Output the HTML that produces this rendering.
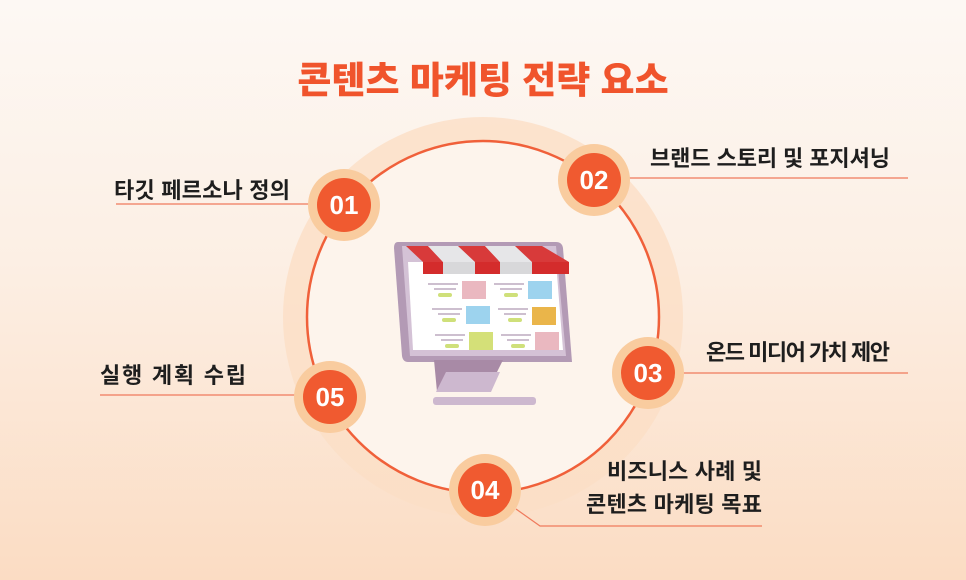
<!DOCTYPE html>
<html><head><meta charset="utf-8"><style>
html,body{margin:0;padding:0}
body{width:966px;height:580px;overflow:hidden;background:linear-gradient(180deg,#fdf8f4 0%,#fcefe4 45%,#fbdcc3 100%);font-family:"Liberation Sans","Noto Sans CJK KR",sans-serif}
svg{display:block}
</style></head><body>
<svg width="966" height="580" viewBox="0 0 966 580">
<text x="483" y="93" text-anchor="middle" font-size="37" font-weight="900" fill="#f0542c" font-family="Liberation Sans, Noto Sans CJK KR, sans-serif">콘텐츠 마케팅 전략 요소</text>
<circle cx="483" cy="317" r="200" fill="#fbdfc6" opacity="0.8"/>
<circle cx="483" cy="317" r="176" fill="#fdf4ec"/>
<circle cx="483" cy="317" r="176" fill="none" stroke="#f0603a" stroke-width="2.5"/>
<g stroke="#ef7a5c" stroke-width="1.2" fill="none">
<line x1="116" y1="204" x2="318" y2="204"/>
<line x1="622" y1="178" x2="908" y2="178"/>
<line x1="676" y1="373" x2="908" y2="373"/>
<line x1="100" y1="395" x2="302" y2="395"/>
<polyline points="516,509 540,526 762,526"/>
</g>
<!-- monitor -->
<g>
<path d="M398,242 L556,242 Q562,242 563,248 L572,362 L408,362 Q403,362 402,356 L394,248 Q394,242 398,242Z" fill="#b39ab5"/>
<path d="M402,246 L556,246 L566,356 L410,356Z" fill="#d4c2d6"/>
<path d="M408,262 L556,262 L563,350 L413,350Z" fill="#ffffff"/>
<path d="M434,360 L503,360 L487,392 L437,392Z" fill="#a88aa6"/>
<path d="M446,372 L500,372 L491,392 L436,392Z" fill="#cdb8cf"/>
<rect x="433" y="397" width="103" height="8" rx="3" fill="#cdb8cf"/>
<polygon points="406,246 428,246 443,262 423,262" fill="#d83a3a"/>
<polygon points="428,246 458,246 475,262 443,262" fill="#e6e6e8"/>
<polygon points="458,246 485,246 500,262 475,262" fill="#d83a3a"/>
<polygon points="485,246 515,246 532,262 500,262" fill="#e6e6e8"/>
<polygon points="515,246 542,246 569,262 532,262" fill="#d83a3a"/>
<rect x="423" y="262" width="20" height="12" fill="#d42c2c"/>
<rect x="443" y="262" width="32" height="12" fill="#d8d8da"/>
<rect x="475" y="262" width="25" height="12" fill="#d42c2c"/>
<rect x="500" y="262" width="32" height="12" fill="#d8d8da"/>
<rect x="532" y="262" width="37" height="12" fill="#d42c2c"/>
<rect x="462" y="281" width="24" height="18" fill="#eab8c0"/>
<rect x="528" y="281" width="24" height="18" fill="#9dd3ee"/>
<rect x="466" y="306" width="24" height="18" fill="#9dd3ee"/>
<rect x="532" y="307" width="24" height="18" fill="#eab54a"/>
<rect x="469" y="332" width="24" height="18" fill="#d4e078"/>
<rect x="535" y="332" width="24" height="18" fill="#eab8c0"/>
<g fill="#cdbfcf">
<rect x="428" y="283" width="30" height="2"/><rect x="434" y="288" width="22" height="2"/>
<rect x="494" y="283" width="30" height="2"/><rect x="500" y="288" width="22" height="2"/>
<rect x="432" y="308" width="30" height="2"/><rect x="438" y="313" width="22" height="2"/>
<rect x="498" y="308" width="30" height="2"/><rect x="504" y="313" width="22" height="2"/>
<rect x="435" y="334" width="30" height="2"/><rect x="441" y="339" width="22" height="2"/>
<rect x="501" y="334" width="30" height="2"/><rect x="507" y="339" width="22" height="2"/>
</g>
<g fill="#cfe07a">
<rect x="438" y="293" width="14" height="4" rx="2"/><rect x="504" y="293" width="14" height="4" rx="2"/>
<rect x="442" y="318" width="14" height="4" rx="2"/><rect x="508" y="318" width="14" height="4" rx="2"/>
<rect x="445" y="344" width="14" height="4" rx="2"/><rect x="511" y="344" width="14" height="4" rx="2"/>
</g>
</g>
<g font-family="Liberation Sans, sans-serif" font-weight="700" font-size="26" fill="#fff" text-anchor="middle">
<circle cx="344" cy="205" r="36" fill="#f9cc9f"/><circle cx="344" cy="205" r="27" fill="#f05a30"/><text x="344" y="214">01</text>
<circle cx="594" cy="180" r="36" fill="#f9cc9f"/><circle cx="594" cy="180" r="27" fill="#f05a30"/><text x="594" y="189">02</text>
<circle cx="648" cy="373" r="36" fill="#f9cc9f"/><circle cx="648" cy="373" r="27" fill="#f05a30"/><text x="648" y="382">03</text>
<circle cx="485" cy="490" r="36" fill="#f9cc9f"/><circle cx="485" cy="490" r="27" fill="#f05a30"/><text x="485" y="499">04</text>
<circle cx="330" cy="397" r="36" fill="#f9cc9f"/><circle cx="330" cy="397" r="27" fill="#f05a30"/><text x="330" y="406">05</text>
</g>
<g font-family="Liberation Sans, Noto Sans CJK KR, sans-serif" font-weight="700" font-size="22" fill="#1e1e1e">
<text x="114" y="198" textLength="176">타깃 페르소나 정의</text>
<text x="650" y="166" textLength="240">브랜드 스토리 및 포지셔닝</text>
<text x="706" y="360" textLength="184">온드 미디어 가치 제안</text>
<text x="100" y="383" textLength="146">실행 계획 수립</text>
<text x="607" y="479" textLength="155">비즈니스 사례 및</text>
<text x="586" y="512" textLength="176">콘텐츠 마케팅 목표</text>
</g>
</svg>
</body></html>
